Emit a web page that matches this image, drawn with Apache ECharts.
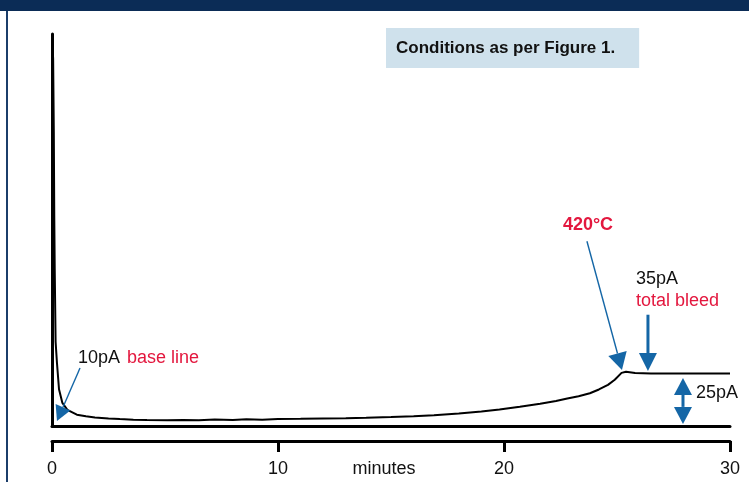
<!DOCTYPE html>
<html><head><meta charset="utf-8">
<script src="https://cdn.jsdelivr.net/npm/echarts/dist/echarts.min.js"></script>
<style>html,body{margin:0;padding:0;background:#fff}#c{width:749px;height:482px}</style>
</head><body><div id="c"></div>
<script>
// ---- data (minutes, pA) ----
const minutes = [0.00,0.03,0.05,0.08,0.10,0.12,0.16,0.22,0.31,0.46,0.68,1.1,1.5,1.9,2.5,3.0,3.6,4.2,5.1,5.8,6.5,7.2,8.0,8.6,9.3,10.0,11,12,13,13.9,15,16,16.9,18,19,19.8,20.7,21.6,22.3,22.8,23.3,23.8,24.2,24.6,24.9,25.2,25.4,25.8,26.5,27.5,28.5,29.5,30];
const signalPA = [196,196,185,150,110,85,50,40,27.5,21,17.7,15.4,14.6,14.1,13.6,13.3,13.0,12.8,12.7,12.9,12.7,13.1,12.9,13.2,13.0,13.3,13.4,13.6,13.7,13.9,14.3,14.7,15.1,15.9,16.9,17.9,19.2,20.6,21.9,23.1,24.2,25.6,27.4,29.6,32.0,35.3,35.8,35.2,35.0,35.0,35.0,35.0,35.0];
const xTicks = [0,10,20,30];
const baseLevelPA = 10;
const topLevelPA = 196.7;
// annotation anchors in data units [minutes, pA]
const arrow420 = [[23.67, 98], [25.22, 36.7]];
const arrowBleed = [[26.37, 63], [26.37, 36.2]];
const arrow25 = [[27.92, 32.9], [27.92, 11.0]];
const arrowBase = [[1.24, 37.6], [0.22, 12.4]];

const BLUE = '#1466a6', RED = '#e3173e', FONT = '"Liberation Sans", Arial, sans-serif';
const chart = echarts.init(document.getElementById('c'), null, {renderer: 'canvas'});
chart.setOption({
  animation: false,
  backgroundColor: '#fff',
  title: {
    text: 'Conditions as per Figure 1.',
    left: 386, top: 28,
    backgroundColor: '#cfe1ec',
    padding: [11, 24, 11, 10],
    textStyle: {fontFamily: FONT, fontWeight: 'bold', fontSize: 17, color: '#111', lineHeight: 18}
  },
  grid: {left: 52, right: 19, top: 34, bottom: 56, containLabel: false, outerBoundsMode: 'none'},
  xAxis: [{
    type: 'value', min: 0, max: 30, interval: 10, offset: 15,
    name: 'minutes', nameLocation: 'middle', nameGap: 19, nameMoveOverlap: false,
    nameTextStyle: {fontFamily: FONT, fontSize: 18, color: '#111', verticalAlign: 'top', padding: [0, 14, 0, 0]},
    axisLine: {lineStyle: {color: '#000', width: 3}},
    axisTick: {show: true, length: 11, lineStyle: {color: '#000', width: 3}},
    axisLabel: {fontFamily: FONT, fontSize: 18, color: '#111', margin: 19, customValues: xTicks},
    splitLine: {show: false}
  }, {
    type: 'value', min: 0, max: 30, position: 'bottom', offset: 0,
    axisLine: {lineStyle: {color: '#000', width: 3}},
    axisTick: {show: false}, axisLabel: {show: false}, splitLine: {show: false}
  }],
  yAxis: {
    type: 'value', min: baseLevelPA, max: topLevelPA,
    axisLine: {show: true, lineStyle: {color: '#000', width: 3}},
    axisTick: {show: false}, axisLabel: {show: false}, splitLine: {show: false}
  },
  series: [{
    type: 'line', xAxisIndex: 0,
    data: minutes.map((m, i) => [m, signalPA[i]]),
    showSymbol: false, symbol: 'none',
    lineStyle: {color: '#000', width: 2},
    z: 3
  }]
});

function px(p) { return chart.convertToPixel({xAxisIndex: 0, yAxisIndex: 0}, p); }
function head(tip, from, len, w) {
  const dx = from[0] - tip[0], dy = from[1] - tip[1];
  const d = Math.hypot(dx, dy), ux = dx / d, uy = dy / d;
  const bx = tip[0] + ux * len, by = tip[1] + uy * len;
  return {poly: [[tip[0], tip[1]], [bx - uy * w / 2, by + ux * w / 2], [bx + uy * w / 2, by - ux * w / 2]], base: [bx, by]};
}
const g = [];
function arrow(pair, len, w, lw) {
  const tail = px(pair[0]), tip = px(pair[1]);
  const h = head(tip, tail, len, w);
  g.push({type: 'line', shape: {x1: tail[0], y1: tail[1], x2: h.base[0], y2: h.base[1]}, style: {stroke: BLUE, lineWidth: lw}, z: 10});
  g.push({type: 'polygon', shape: {points: h.poly}, style: {fill: BLUE}, z: 10});
}
function doubleArrow(pair, len, w, lw) {
  const a = px(pair[0]), b = px(pair[1]);
  const h1 = head(a, b, len, w), h2 = head(b, a, len, w);
  g.push({type: 'line', shape: {x1: h1.base[0], y1: h1.base[1], x2: h2.base[0], y2: h2.base[1]}, style: {stroke: BLUE, lineWidth: lw}, z: 10});
  g.push({type: 'polygon', shape: {points: h1.poly}, style: {fill: BLUE}, z: 10});
  g.push({type: 'polygon', shape: {points: h2.poly}, style: {fill: BLUE}, z: 10});
}
arrow(arrow420, 17, 19, 1.4);
arrow(arrowBleed, 18, 18, 3);
arrow(arrowBase, 15, 16, 1.4);
doubleArrow(arrow25, 17, 18, 3);

function txt(s, x, y, color, bold, align) {
  g.push({type: 'text', z: 11, style: {text: s, x: x, y: y, fill: color, font: (bold ? 'bold ' : '') + '18px ' + FONT, textAlign: align || 'left', textVerticalAlign: 'middle'}});
}
txt('420°C', 588, 225, RED, true, 'center');
txt('35pA', 636, 279, '#111');
txt('total bleed', 636, 301, RED);
txt('25pA', 696, 393, '#111');
txt('10pA', 78, 358, '#111');
txt('base line', 127, 358, RED);

// header bar and left border
g.push({type: 'rect', shape: {x: 0, y: 0, width: 749, height: 11}, style: {fill: '#0b2c56'}, z: 20});
g.push({type: 'rect', shape: {x: 6, y: 11, width: 2, height: 471}, style: {fill: '#1b3d6a'}, z: 20});

chart.setOption({graphic: g});
</script>
</body></html>
